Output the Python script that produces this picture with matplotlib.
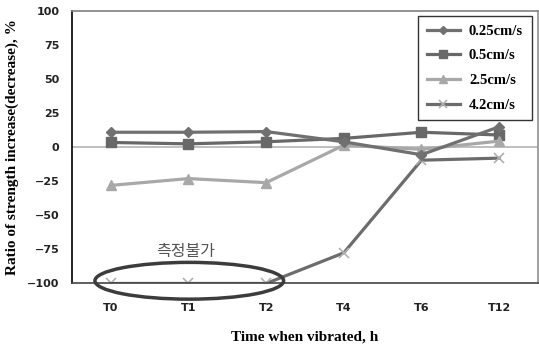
import numpy as np
import matplotlib.pyplot as plt
from matplotlib.patches import Ellipse

# Strength change vs vibration time
times = ['T0', 'T1', 'T2', 'T4', 'T6', 'T12']
v025 = [11, 11, 11.5, 4, -5.5, 15]
v05 = [3.5, 2.5, 4, 6.5, 11, 9]
v25 = [-28, -23, -26, 1.5, -1.5, 4.5]
v42 = [-100, -100, -100, -77.5, -9.5, -8]
yticks = [100, 75, 50, 25, 0, -25, -50, -75, -100]

fig = plt.figure(figsize=(5.39, 3.49), dpi=100)
ax = fig.add_axes([0.1336, 0.1877, 0.8644, 0.7808])

x = np.arange(len(times))
ax.axhline(0, color='#b4b4b4', lw=1.2, zorder=1)

ax.plot(x, v025, color='#707070', lw=2.3, marker='D', ms=5,
        label='0.25cm/s', zorder=4)
ax.plot(x, v05, color='#686868', lw=2.3, marker='s', ms=7.5,
        label='0.5cm/s', zorder=3)
ax.plot(x, v25, color='#a8a8a8', lw=2.3, marker='^', ms=7.5,
        label='2.5cm/s', zorder=3)
ax.plot(x, v42, color='#6c6c6c', lw=2.3, marker='x', ms=7,
        mec='#b0b0b0', mew=1.2, label='4.2cm/s', zorder=2)

# ellipse marking the values that could not be measured
ell = Ellipse((1.01, -98), 2.43, 27, fill=False, ec='#3c3c3c', lw=2.5,
              zorder=5, clip_on=False)
ax.add_patch(ell)
ax.text(0.96, -76.5, '측정불가', family=['Noto Sans CJK KR', 'DejaVu Sans'],
        fontsize=11.5, color='#555555', ha='center', va='center')

ax.set_xlim(-0.5, 5.5)
ax.set_ylim(-100, 100)
ax.set_xticks(x)
ax.set_xticklabels(times)
ax.set_yticks(yticks)
ax.tick_params(axis='y', length=0, labelsize=8, pad=9)
ax.tick_params(axis='x', length=0, labelsize=8, pad=14)
for lab in ax.get_xticklabels() + ax.get_yticklabels():
    lab.set_fontweight('bold')
    lab.set_color('#222222')

ax.spines['left'].set_color('black')
ax.spines['bottom'].set_color('#444444')
ax.spines['top'].set_color('#808080')
ax.spines['right'].set_color('#909090')
for s in ax.spines.values():
    s.set_linewidth(1.2)

ax.set_xlabel('Time when vibrated, h', family='Liberation Serif',
              fontweight='bold', fontsize=11, labelpad=13)
ax.set_ylabel('Ratio of strength increase(decrease), %',
              family='Liberation Serif', fontweight='bold', fontsize=11,
              labelpad=6)

leg = ax.legend(loc='upper right', bbox_to_anchor=(0.987, 0.982),
                borderaxespad=0,
                prop={'family': 'Liberation Serif', 'weight': 'bold', 'size': 10.5},
                frameon=True, fancybox=False, edgecolor='black',
                handlelength=2.3, labelspacing=0.78, borderpad=0.6,
                handletextpad=0.6, markerscale=0.8)
leg.get_frame().set_linewidth(1.0)

fig.savefig('out.png', dpi=100)
